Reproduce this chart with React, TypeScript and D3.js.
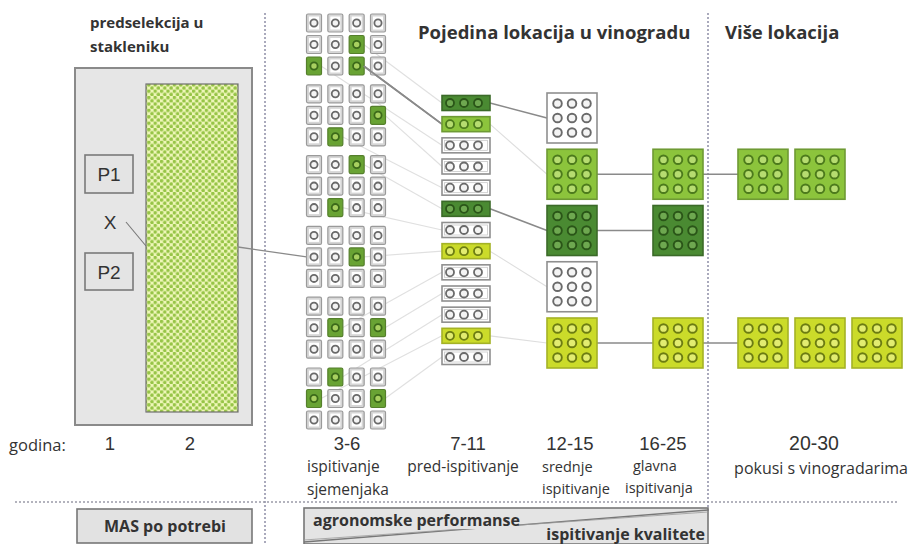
import React from "react";
import * as d3 from "d3";

// ---------- data ----------
// green (selected) seedlings: [group, row, col]
const SEEDLING_GREEN: [number, number, number][] = [
  [0, 1, 2], [0, 2, 2], [0, 2, 0], [1, 1, 3], [1, 2, 1], [2, 0, 2], [2, 2, 1],
  [3, 1, 2], [4, 1, 1], [4, 1, 3], [5, 0, 1], [5, 1, 0], [5, 1, 3],
];
const SEED_GROUPS = 6;
const SEED_ROWS = 3;
const SEED_COLS = 4;
// pre-test plots (7-11)
const STRIP_COLORS = ["dark", "green", "white", "white", "white", "dark", "white", "yellow", "white", "white", "white", "yellow", "white"];
const STRONG_SEED_LINK = 1; // seedling index drawn with strong line to its strip
// mid tests (12-15)
const MID_COLORS = ["white", "green", "dark", "white", "yellow"];
const STRIP_TO_MID: [number, number, string][] = [
  [0, 0, "strong"], [1, 1, "faint"], [5, 2, "strong"], [7, 3, "faint"], [11, 4, "faint"],
];
// main tests (16-25): rows of the mid column that continue
const MAIN_ROWS = [1, 2, 4];
// grower trials (20-30): [row, number of plots]
const MULTI_ROWS: [number, number][] = [[1, 2], [4, 3]];

const YEAR_LABELS = ["1", "2", "3-6", "7-11", "12-15", "16-25", "20-30"];
const HEADINGS = ["predselekcija u", "stakleniku", "Pojedina lokacija u vinogradu", "Više lokacija"];
const STAGE_LABELS = ["ispitivanje", "sjemenjaka", "pred-ispitivanje", "srednje", "ispitivanje", "glavna", "ispitivanja", "pokusi s vinogradarima"];
const BOTTOM_LABELS = ["MAS po potrebi", "agronomske performanse", "ispitivanje kvalitete"];

// ---------- styles ----------
const PAL: Record<string, { fill: string; stroke: string; ring: string; ringFill: string }> = {
  white: { fill: "#ffffff", stroke: "#8f8f8f", ring: "#6a6a6a", ringFill: "#f4f4f4" },
  green: { fill: "#8cc43c", stroke: "#6e9a34", ring: "#4c7a1c", ringFill: "#b6dc70" },
  dark: { fill: "#4a8a32", stroke: "#3b6a28", ring: "#2a5518", ringFill: "#6ea850" },
  yellow: { fill: "#cbdb2a", stroke: "#a4b226", ring: "#6c7c12", ringFill: "#e2ec70" },
  seed: { fill: "#69a334", stroke: "#557f2c", ring: "#3c6a1a", ringFill: "#a8d060" },
};
const TXT = "#333333";
const FONT = "'Open Sans', 'DejaVu Sans', sans-serif";
const NUMFONT = "'Liberation Sans', Arial, sans-serif";

export default function App() {
  const W = 911, H = 544;

  // scales
  const seedX = d3.scaleLinear().domain([0, SEED_COLS - 1]).range([314, 378]);
  const seedGroupY = d3.scaleLinear().domain([0, SEED_GROUPS - 1]).range([23, 377]);
  const seedRowStep = 21.5;
  const seedY = (g: number, r: number) => seedGroupY(g) + r * seedRowStep;

  const stripY = d3.scaleLinear().domain([0, STRIP_COLORS.length - 1]).range([103, 357]);
  const stripX0 = 442, stripW = 48, stripH = 15;
  const stripCircX = d3.scaleLinear().domain([0, 2]).range([450, 478]);

  const boxY = d3.scaleLinear().domain([0, MID_COLORS.length - 1]).range([93, 318]);
  const boxS = 50;
  const midX = 547, mainX = 653;
  const multiX = d3.scaleLinear().domain([0, 2]).range([738, 852]);
  const ringOff = d3.scaleLinear().domain([0, 2]).range([10.5, 39.5]);

  const greenSet = new Set(SEEDLING_GREEN.map(([g, r, c]) => `${g}-${r}-${c}`));

  const ninePlot = (x: number, y: number, key: string, k: string) => {
    const p = PAL[key];
    return (
      <g key={k}>
        <rect x={x} y={y} width={boxS} height={boxS} fill={p.fill} stroke={p.stroke} strokeWidth={1.6} />
        {d3.range(9).map((i) => (
          <circle key={i} cx={x + ringOff(i % 3)} cy={y + ringOff(Math.floor(i / 3))} r={4.3}
            fill={p.ringFill} stroke={p.ring} strokeWidth={1.9} />
        ))}
      </g>
    );
  };

  // seedling cells
  const seedCells: JSX.Element[] = [];
  for (let g = 0; g < SEED_GROUPS; g++)
    for (let r = 0; r < SEED_ROWS; r++)
      for (let c = 0; c < SEED_COLS; c++) {
        const isG = greenSet.has(`${g}-${r}-${c}`);
        const cx = seedX(c), cy = seedY(g, r);
        const p = isG ? PAL.seed : PAL.white;
        seedCells.push(
          <g key={`s${g}${r}${c}`}>
            <rect x={cx - 7.5} y={cy - 9} width={15} height={18} rx={1.5}
              fill={isG ? p.fill : "#d6d6d6"} stroke={isG ? p.stroke : "#9a9a9a"} strokeWidth={1.2} />
            <rect x={cx - 5} y={cy - 6.5} width={10} height={13}
              fill={isG ? p.fill : "#ffffff"} stroke="none" />
            <circle cx={cx} cy={cy} r={3.6} fill={p.ringFill} stroke={p.ring} strokeWidth={1.8} />
          </g>
        );
      }

  // seedling -> strip links
  const seedLinks = SEEDLING_GREEN.map(([g, r, c], i) => {
    const strong = i === STRONG_SEED_LINK;
    return (
      <line key={`sl${i}`} x1={seedX(c) + 7} y1={seedY(g, r)} x2={stripX0} y2={stripY(i)}
        stroke={strong ? "#8a8a8a" : "#e0e0e0"} strokeWidth={strong ? 1.6 : 1.1} />
    );
  });
  const strongSeed = SEEDLING_GREEN[STRONG_SEED_LINK];

  const headStyle = { fontFamily: FONT, fontWeight: 700, fill: TXT } as const;
  const yearX = [110, 190, 347, 468, 570, 663, 814];

  return (
    <svg width={W} height={H} style={{ position: "absolute", left: 0, top: 0, background: "#fff" }}>
      <defs>
        <pattern id="chk" patternUnits="userSpaceOnUse" width={6.4} height={6.4}>
          <rect width={6.4} height={6.4} fill="#eef6b8" />
          <circle cx={1.6} cy={1.6} r={1.8} fill="#96c446" />
          <circle cx={4.8} cy={4.8} r={1.8} fill="#96c446" />
        </pattern>
      </defs>

      {/* dotted separators */}
      <line x1={265} y1={13} x2={265} y2={544} stroke="#8e8ea6" strokeWidth={1.5} strokeDasharray="2,2" />
      <line x1={708} y1={13} x2={708} y2={512} stroke="#8e8ea6" strokeWidth={1.5} strokeDasharray="2,2" />
      <line x1={15} y1={502} x2={897} y2={502} stroke="#9a9aa8" strokeWidth={1.5} strokeDasharray="2,2" />

      {/* headings */}
      <text x={90} y={28} fontSize={15} {...headStyle}>{HEADINGS[0]}</text>
      <text x={90} y={52} fontSize={15} {...headStyle}>{HEADINGS[1]}</text>
      <text x={418} y={39} fontSize={18.5} {...headStyle}>{HEADINGS[2]}</text>
      <text x={725} y={39} fontSize={18.5} {...headStyle}>{HEADINGS[3]}</text>

      {/* greenhouse box */}
      <rect x={75} y={68} width={177} height={357} fill="#e6e6e6" stroke="#8a8a8a" strokeWidth={2} />
      <rect x={146} y={84} width={92} height={328} fill="url(#chk)" stroke="#6f6f6f" strokeWidth={1.2} />
      <rect x={85} y={155} width={48} height={38} fill="#e4e4e4" stroke="#7a7a7a" strokeWidth={1.6} />
      <text x={109} y={181} textAnchor="middle" fontSize={19} fontFamily={NUMFONT} fill={TXT}>P1</text>
      <text x={110} y={229} textAnchor="middle" fontSize={19} fontFamily={NUMFONT} fill={TXT}>X</text>
      <rect x={85} y={253} width={48} height={37} fill="#e4e4e4" stroke="#7a7a7a" strokeWidth={1.6} />
      <text x={109} y={279} textAnchor="middle" fontSize={19} fontFamily={NUMFONT} fill={TXT}>P2</text>
      <line x1={126} y1={222} x2={146} y2={246} stroke="#777" strokeWidth={1.1} />
      <line x1={238} y1={247} x2={seedX(0) - 7.5} y2={seedY(3, 1)} stroke="#8a8a8a" strokeWidth={1.3} />

      {/* links */}
      {seedLinks}
      {STRIP_TO_MID.map(([s, m, kind], i) => (
        <line key={`sm${i}`} x1={stripX0 + stripW} y1={stripY(s)} x2={midX} y2={boxY(m) + boxS / 2}
          stroke={kind === "strong" ? "#8a8a8a" : "#dedede"} strokeWidth={kind === "strong" ? 1.6 : 1.1} />
      ))}
      {MAIN_ROWS.map((m) => (
        <line key={`mm${m}`} x1={midX + boxS} y1={boxY(m) + boxS / 2} x2={mainX} y2={boxY(m) + boxS / 2}
          stroke="#8a8a8a" strokeWidth={1.6} />
      ))}
      {MULTI_ROWS.map(([m]) => (
        <line key={`mu${m}`} x1={mainX + boxS} y1={boxY(m) + boxS / 2} x2={multiX(0)} y2={boxY(m) + boxS / 2}
          stroke="#8a8a8a" strokeWidth={1.6} />
      ))}

      {/* seedlings */}
      {seedCells}
      <line x1={seedX(strongSeed[2]) + 7} y1={seedY(strongSeed[0], strongSeed[1])} x2={stripX0} y2={stripY(STRONG_SEED_LINK)}
        stroke="#8a8a8a" strokeWidth={1.6} />

      {/* strips */}
      {STRIP_COLORS.map((key, i) => {
        const p = PAL[key];
        const y = stripY(i) - stripH / 2;
        return (
          <g key={`st${i}`}>
            <rect x={stripX0} y={y} width={stripW} height={stripH} fill={p.fill} stroke={p.stroke} strokeWidth={1.6} />
            {key === "white" && (
              <rect x={stripX0 + 2.5} y={y + 2.5} width={stripW - 5} height={stripH - 5} fill="none" stroke="#c8c8c8" strokeWidth={0.8} />
            )}
            {d3.range(3).map((j) => (
              <circle key={j} cx={stripCircX(j)} cy={stripY(i)} r={4} fill={p.ringFill} stroke={p.ring} strokeWidth={1.8} />
            ))}
          </g>
        );
      })}

      {/* mid, main, multi plots */}
      {MID_COLORS.map((key, i) => ninePlot(midX, boxY(i), key, `mid${i}`))}
      {MAIN_ROWS.map((m) => ninePlot(mainX, boxY(m), MID_COLORS[m], `main${m}`))}
      {MULTI_ROWS.map(([m, n]) => d3.range(n).map((j) => ninePlot(multiX(j), boxY(m), MID_COLORS[m], `mu${m}-${j}`)))}

      {/* years */}
      <text x={9} y={451} fontSize={16.5} fontFamily={FONT} fill={TXT}>godina:</text>
      {YEAR_LABELS.map((t, i) => (
        <text key={t} x={yearX[i]} y={450} textAnchor="middle" fontSize={i === 6 ? 19.5 : 18.5} fontFamily={NUMFONT} fill={TXT}>{t}</text>
      ))}

      {/* stage labels */}
      <g fontFamily={FONT} fontSize={15.5} fill={TXT}>
        <text x={307} y={472}>{STAGE_LABELS[0]}</text>
        <text x={307} y={495}>{STAGE_LABELS[1]}</text>
        <text x={463} y={472} textAnchor="middle">{STAGE_LABELS[2]}</text>
        <text x={542} y={472} fontSize={14.5}>{STAGE_LABELS[3]}</text>
        <text x={542} y={494} fontSize={14.5}>{STAGE_LABELS[4]}</text>
        <text x={633} y={471} fontSize={14.5}>{STAGE_LABELS[5]}</text>
        <text x={625} y={493} fontSize={14.5}>{STAGE_LABELS[6]}</text>
        <text x={821} y={474} textAnchor="middle" fontSize={16}>{STAGE_LABELS[7]}</text>
      </g>

      {/* bottom boxes */}
      <rect x={77} y={509} width={175} height={34} fill="#e2e2e2" stroke="#777" strokeWidth={1.6} />
      <text x={165} y={532} textAnchor="middle" fontSize={16} {...headStyle}>{BOTTOM_LABELS[0]}</text>

      <rect x={304} y={508} width={404} height={36} fill="#e4e4e4" stroke="#777" strokeWidth={1.6} />
      <line x1={304} y1={542} x2={708} y2={510} stroke="#777" strokeWidth={1.3} />
      <line x1={304} y1={540} x2={708} y2={512} stroke="#9a9a9a" strokeWidth={0.8} />
      <rect x={310} y={512} width={208} height={17} fill="#e4e4e4" />
      <text x={313} y={526} fontSize={16} {...headStyle}>{BOTTOM_LABELS[1]}</text>
      <rect x={543} y={527} width={162} height={16} fill="#e4e4e4" />
      <text x={705} y={540} textAnchor="end" fontSize={16} {...headStyle}>{BOTTOM_LABELS[2]}</text>
    </svg>
  );
}
